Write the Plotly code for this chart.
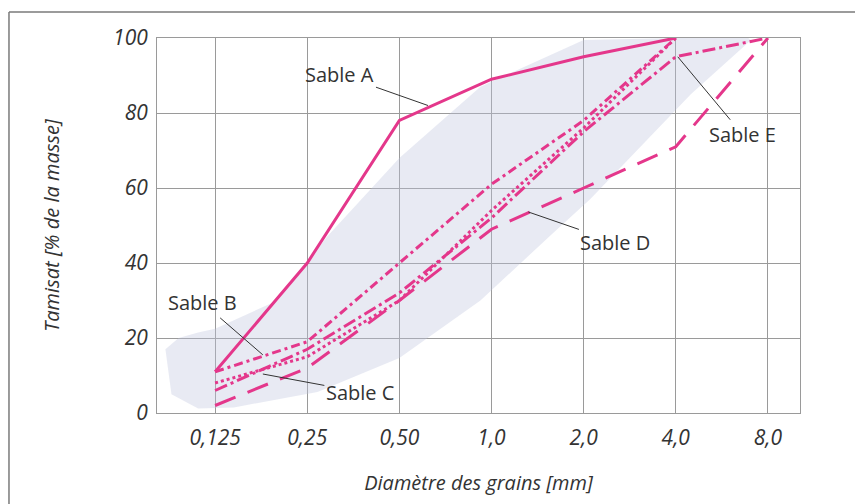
import math
import plotly.graph_objects as go

# ---- data -------------------------------------------------------------
diam = [0.125, 0.25, 0.5, 1.0, 2.0, 4.0, 8.0]          # mm
tick_labels = ["0,125", "0,25", "0,50", "1,0", "2,0", "4,0", "8,0"]
y_ticks = [0, 20, 40, 60, 80, 100]

sable_a = [11, 40, 78, 89, 95, 100]
sable_b = [11, 19, 40, 61, 78, 100]
sable_c = [8, 15, 30, 54, 76, 100]
sable_d = [2, 12, 30, 49, 60, 71, 100]
sable_e = [6, 17, 32, 52, 75, 95, 100]

# recommended zone (shaded band)
zone_x = [0.086, 0.095, 0.11, 0.125, 0.2, 0.29, 0.5, 0.92, 2.0, 4.0, 6.9, 7.05,
          4.48, 2.1, 1.59, 0.92, 0.5, 0.27, 0.144, 0.11, 0.09]
zone_y = [17, 20, 21.5, 22.5, 30, 47, 68, 87, 99.5, 100, 100, 99.5,
          85, 57, 48, 30, 14.7, 5.6, 1.5, 1.2, 5]

# annotation targets (mm, %) and text offsets
labels = ["Sable A", "Sable B", "Sable C", "Sable D", "Sable E"]
lab_x = [0.62, 0.179, 0.179, 1.32, 4.06]
lab_y = [82, 15.5, 10.4, 53.6, 95]
lab_ax = [-88, -60, 97, 87, 65]
lab_ay = [-31, -52, 18, 30, 78]

PINK = "#e4378b"
GRID = "#9a9a9a"
TXT = "#333333"
FONT = "Open Sans"

fig = go.Figure()

fig.add_trace(go.Scatter(x=zone_x, y=zone_y, fill="toself", mode="lines",
                         line=dict(width=0),
                         fillcolor="rgba(190,198,222,0.36)", hoverinfo="skip",
                         showlegend=False))

series = [
    (sable_d, "22px,13px"),
    (sable_c, "3px,3px"),
    (sable_e, "13px,4px,3px,4px"),
    (sable_b, "9px,4px,3px,4px"),
    (sable_a, "solid"),
]
for ys, dash in series:
    fig.add_trace(go.Scatter(x=diam[:len(ys)], y=ys, mode="lines",
                             line=dict(color=PINK, width=3, dash=dash),
                             showlegend=False))

for t, x, y, ax, ay in zip(labels, lab_x, lab_y, lab_ax, lab_ay):
    fig.add_annotation(x=math.log10(x), y=y, text=t, showarrow=True,
                       ax=ax, ay=ay, arrowhead=0, arrowwidth=1,
                       arrowcolor="#333", standoff=0,
                       font=dict(family=FONT, size=20, color=TXT))

# outer frame of the figure
fig.add_shape(type="line", xref="paper", yref="paper",
              x0=-0.2302, x1=1.2, y0=1.0693, y1=1.0693,
              line=dict(color="#7a7a7a", width=1.5))
fig.add_shape(type="line", xref="paper", yref="paper",
              x0=-0.2302, x1=-0.2302, y0=1.0693, y1=-0.3,
              line=dict(color="#7a7a7a", width=1.5))

fig.update_xaxes(type="log", range=[-1.093, 1.008], tickvals=diam,
                 ticktext=tick_labels, showgrid=True, gridcolor=GRID,
                 gridwidth=1, showline=True, linecolor=GRID, mirror=True,
                 zeroline=False, ticks="", ticklabelstandoff=6,
                 tickfont=dict(family=FONT, size=21, color=TXT, style="italic"),
                 title=dict(text="Diamètre des grains [mm]", standoff=25,
                            font=dict(family=FONT, size=20, color=TXT,
                                      style="italic")))
fig.update_yaxes(range=[0, 100], tickvals=y_ticks, showgrid=True,
                 gridcolor=GRID, gridwidth=1, showline=True, linecolor=GRID,
                 mirror=True, zeroline=False, ticks="", ticklabelstandoff=4,
                 tickfont=dict(family=FONT, size=21, color=TXT, style="italic"),
                 title=dict(text="Tamisat [% de la masse]", standoff=48,
                            font=dict(family=FONT, size=20, color=TXT,
                                      style="italic")))

# the page body adds an 8px offset: margins compensate so the plot area
# lands at x 157..800, y 38..413 in the photographed window
fig.update_layout(width=863, height=504,
                  margin=dict(l=149, r=71, t=30, b=99, autoexpand=False),
                  paper_bgcolor="white", plot_bgcolor="white",
                  showlegend=False)

fig.write_html("out.html")
